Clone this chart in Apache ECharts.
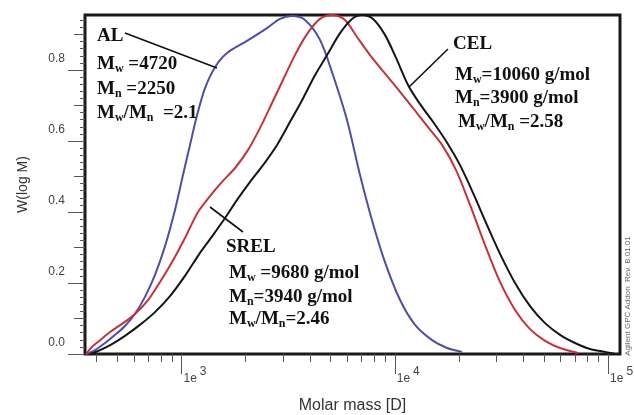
<!DOCTYPE html>
<html>
<head>
<meta charset="utf-8">
<script src="https://cdn.jsdelivr.net/npm/echarts@6/dist/echarts.min.js"></script>
<style>html,body{margin:0;padding:0;background:#fff;}#c{width:634px;height:415px;}</style>
</head>
<body>
<div id="c"></div>
<script>
// Molar mass (g/mol) and W(log M)
const alMass = [357, 393, 438, 488, 543, 605, 674, 751, 837, 932, 1016, 1096, 1183, 1289, 1436, 1634, 2027, 2517, 2897, 3297, 3793, 4460, 5131, 5970, 6872, 7820, 8998, 10590, 12450, 14960, 17590, 20660];
const alW    = [0, 0.011, 0.031, 0.054, 0.079, 0.113, 0.161, 0.223, 0.304, 0.406, 0.504, 0.589, 0.673, 0.749, 0.808, 0.848, 0.882, 0.918, 0.944, 0.952, 0.941, 0.885, 0.786, 0.659, 0.504, 0.377, 0.259, 0.152, 0.082, 0.039, 0.017, 0.006];

const srelMass = [357, 380, 415, 462, 526, 605, 697, 793, 903, 1038, 1195, 1360, 1549, 1783, 2052, 2336, 2657, 2990, 3404, 3875, 4460, 5131, 5843, 6651, 7656, 8809, 10250, 12180, 14320, 16660, 19380, 22540, 26500, 31160, 36640, 43080, 50660, 59570, 72350];
const srelW    = [0, 0.020, 0.039, 0.062, 0.085, 0.113, 0.152, 0.203, 0.259, 0.327, 0.400, 0.445, 0.485, 0.524, 0.575, 0.637, 0.707, 0.772, 0.842, 0.901, 0.944, 0.955, 0.941, 0.893, 0.842, 0.797, 0.749, 0.693, 0.639, 0.589, 0.518, 0.420, 0.307, 0.203, 0.124, 0.070, 0.037, 0.017, 0.003];

const celMass = [373, 415, 472, 543, 638, 751, 883, 1038, 1221, 1405, 1600, 1821, 2096, 2411, 2806, 3228, 3675, 4230, 4813, 5537, 6303, 7022, 7908, 8998, 10140, 11540, 13140, 15110, 17390, 20230, 23280, 27070, 31160, 36640, 43080, 50660, 59570, 70020, 82340, 96830, 106700];
const celW    = [0, 0.011, 0.028, 0.051, 0.082, 0.118, 0.163, 0.220, 0.285, 0.335, 0.383, 0.434, 0.485, 0.532, 0.589, 0.654, 0.715, 0.786, 0.842, 0.904, 0.944, 0.955, 0.944, 0.899, 0.834, 0.758, 0.704, 0.654, 0.600, 0.532, 0.454, 0.363, 0.282, 0.200, 0.135, 0.087, 0.054, 0.031, 0.014, 0.006, 0.001];

const xMin = 352.7, xMax = 113800;
const yMax = 0.955;
const majorX = [3, 4, 5];                       // log10 of 1e3, 1e4, 1e5
const minorMult = [2, 3, 4, 5, 6, 7, 8, 9];
const yMajor = [0, 0.2, 0.4, 0.6, 0.8];
const yMid = [0.1, 0.3, 0.5, 0.7, 0.9];

const minorX = [];
[2, 3, 4].forEach(function (e) { minorMult.forEach(function (k) { minorX.push(Math.log10(k * Math.pow(10, e))); }); });
const yMinor = [];
for (let i = 0; i <= 47; i++) yMinor.push(+(i * 0.02).toFixed(2));

function zip(a, b) { return a.map(function (v, i) { return [v, b[i]]; }); }

const chart = echarts.init(document.getElementById('c'), null, {renderer: 'canvas'});
const tickColor = '#555';
const lmin = Math.log10(xMin), lmax = Math.log10(xMax);
const serif = '"Liberation Serif","Times New Roman",serif';
const sans = '"Liberation Sans",Arial,sans-serif';
const rich = {
  m: {fontSize: 19, fontWeight: 'bold', fontFamily: serif, fill: '#111', lineHeight: 22},
  s: {fontSize: 12, fontWeight: 'bold', fontFamily: serif, fill: '#111', lineHeight: 12, verticalAlign: 'bottom'}
};
function txt(x, y, t) {
  return {type: 'text', x: x, y: y, z: 100, style: {text: t, rich: rich, fontSize: 19, fontWeight: 'bold', fontFamily: serif, fill: '#111', verticalAlign: 'middle', align: 'left'}};
}
function seg(x1, y1, x2, y2) {
  return {type: 'line', z: 100, shape: {x1: x1, y1: y1, x2: x2, y2: y2}, style: {stroke: '#111', lineWidth: 1.6}};
}

function valueX(extra) {
  return Object.assign({type: 'value', min: lmin, max: lmax, offset: 0,
    splitLine: {show: false}}, extra);
}
function valueY(extra) {
  return Object.assign({type: 'value', min: 0, max: yMax, position: 'left', offset: 0,
    axisLine: {show: false}, splitLine: {show: false}}, extra);
}

chart.setOption({
  animation: false,
  backgroundColor: '#fff',
  grid: {left: 85, right: 14, top: 15, bottom: 61, show: true, borderColor: '#1a1a1a', borderWidth: 3,
    backgroundColor: 'transparent', containLabel: false, outerBoundsMode: 'none'},
  xAxis: [
    {type: 'log', logBase: 10, min: xMin, max: xMax, position: 'bottom', show: false},
    valueX({
      position: 'top',
      axisLine: {show: false, onZero: true},
      axisTick: {show: true, inside: true, customValues: minorX, length: 8, lineStyle: {color: tickColor, width: 1}},
      axisLabel: {show: false}
    }),
    valueX({
      position: 'bottom',
      axisLine: {show: false},
      name: 'Molar mass [D]', nameLocation: 'middle', nameGap: 44,
      nameTextStyle: {fontSize: 16, color: '#333', fontFamily: sans},
      axisTick: {show: true, inside: false, customValues: majorX, length: 20, lineStyle: {color: tickColor, width: 1}},
      axisLabel: {show: true, customValues: majorX, align: 'left', margin: 12,
        formatter: function (v) { return '{a|1e}{b|' + Math.round(v) + '}'; },
        rich: {
          a: {fontSize: 12, color: '#444', fontFamily: sans, padding: [0, 0, 0, 2]},
          b: {fontSize: 12, color: '#444', fontFamily: sans, padding: [0, 0, 14, 3]}
        }
      }
    })
  ],
  yAxis: [
    valueY({
      name: 'W(log M)', nameLocation: 'middle', nameGap: 55,
      nameTextStyle: {fontSize: 14, color: '#333', fontFamily: sans},
      axisTick: {show: true, inside: false, customValues: yMajor, length: 17, lineStyle: {color: tickColor, width: 1}},
      axisLabel: {show: true, customValues: yMajor, margin: 20, fontSize: 12, color: '#444',
        fontFamily: sans, verticalAlign: 'bottom', lineHeight: 22,
        formatter: function (v) { return v.toFixed(1); }}
    }),
    valueY({
      axisTick: {show: true, inside: false, customValues: yMid, length: 11, lineStyle: {color: tickColor, width: 1}},
      axisLabel: {show: false}
    }),
    valueY({
      axisTick: {show: true, inside: false, customValues: yMinor, length: 5, lineStyle: {color: tickColor, width: 1}},
      axisLabel: {show: false}
    })
  ],
  series: [
    {name: 'AL', type: 'line', xAxisIndex: 0, yAxisIndex: 0, data: zip(alMass, alW), smooth: 0.3, showSymbol: false,
      lineStyle: {color: '#4e4ea6', width: 2}},
    {name: 'SREL', type: 'line', xAxisIndex: 0, yAxisIndex: 0, data: zip(srelMass, srelW), smooth: 0.3, showSymbol: false,
      lineStyle: {color: '#c4323c', width: 2}},
    {name: 'CEL', type: 'line', xAxisIndex: 0, yAxisIndex: 0, data: zip(celMass, celW), smooth: 0.3, showSymbol: false,
      lineStyle: {color: '#151515', width: 2}}
  ],
  graphic: [
    txt(97, 36, '{m|AL}'),
    txt(97, 64, '{m|M}{s|w}{m| =4720}'),
    txt(97, 89, '{m|M}{s|n}{m| =2250}'),
    txt(97, 113, '{m|M}{s|w}{m|/M}{s|n}{m|  =2.1}'),
    seg(125, 33, 217, 68),
    txt(453, 44, '{m|CEL}'),
    txt(455, 75, '{m|M}{s|w}{m|=10060 g/mol}'),
    txt(455, 98, '{m|M}{s|n}{m|=3900 g/mol}'),
    txt(458, 122, '{m|M}{s|w}{m|/M}{s|n}{m| =2.58}'),
    seg(448, 49, 409, 87),
    txt(226, 247, '{m|SREL}'),
    txt(229, 273, '{m|M}{s|w}{m| =9680 g/mol}'),
    txt(229, 297, '{m|M}{s|n}{m|=3940 g/mol}'),
    txt(229, 319, '{m|M}{s|w}{m|/M}{s|n}{m|=2.46}'),
    seg(210, 207, 243, 232),
    {type: 'text', x: 628, y: 296, rotation: Math.PI / 2, z: 100,
      style: {text: 'Agilent GPC Addon  Rev. B.01.01', fontSize: 8, fill: '#666', fontFamily: sans, align: 'center', verticalAlign: 'middle'}}
  ]
});
</script>
</body>
</html>
